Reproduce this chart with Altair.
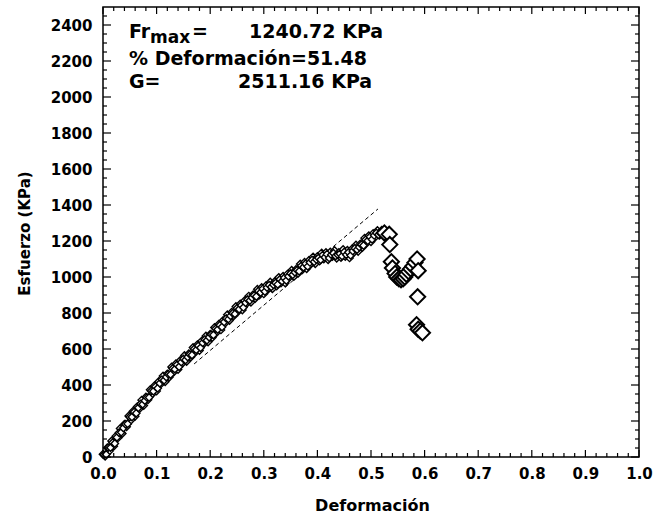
import altair as alt
import pandas as pd

# ---- data ----
strain = [0.000, 0.004, 0.008, 0.012, 0.016, 0.020, 0.024, 0.028, 0.032, 0.036,
          0.040, 0.044, 0.048, 0.052, 0.056, 0.060, 0.064, 0.068, 0.072, 0.076,
          0.080, 0.084, 0.088, 0.092, 0.096, 0.100, 0.104, 0.108, 0.112, 0.116,
          0.120, 0.124, 0.128, 0.132, 0.136, 0.140, 0.144, 0.148, 0.152, 0.156,
          0.160, 0.164, 0.168, 0.172, 0.176, 0.180, 0.184, 0.188, 0.192, 0.196,
          0.200, 0.204, 0.208, 0.212, 0.216, 0.220, 0.224, 0.228, 0.232, 0.236,
          0.240, 0.244, 0.248, 0.252, 0.256, 0.260, 0.264, 0.268, 0.272, 0.276,
          0.280, 0.284, 0.288, 0.292, 0.296, 0.300, 0.304, 0.308, 0.312, 0.316,
          0.320, 0.324, 0.328, 0.332, 0.336, 0.340, 0.344, 0.348, 0.352, 0.356,
          0.360, 0.364, 0.368, 0.372, 0.376, 0.380, 0.384, 0.388, 0.392, 0.396,
          0.400, 0.404, 0.408, 0.412, 0.416, 0.420, 0.424, 0.428, 0.432, 0.436,
          0.440, 0.444, 0.448, 0.452, 0.456, 0.460, 0.464, 0.468, 0.472, 0.476,
          0.480, 0.484, 0.488, 0.492, 0.496, 0.500, 0.504, 0.508, 0.512, 0.516,
          0.520]
stress = [15, 4, 52, 33, 89, 60, 116, 106, 158, 130,
          182, 168, 228, 204, 254, 226, 280, 268, 316, 286,
          334, 318, 374, 350, 396, 366, 420, 406, 450, 418,
          462, 444, 500, 472, 518, 486, 536, 520, 564, 530,
          574, 555, 608, 581, 624, 591, 644, 629, 672, 639,
          682, 664, 720, 692, 738, 706, 758, 744, 790, 758,
          804, 784, 836, 808, 850, 816, 868, 852, 894, 860,
          902, 880, 932, 900, 942, 906, 952, 932, 972, 934,
          974, 950, 998, 966, 1004, 966, 1016, 998, 1038, 1002,
          1042, 1020, 1072, 1040, 1082, 1046, 1092, 1072, 1112, 1074,
          1114, 1088, 1134, 1100, 1136, 1096, 1139, 1114, 1147, 1104,
          1137, 1108, 1153, 1114, 1149, 1106, 1154, 1136, 1178, 1142,
          1184, 1164, 1216, 1188, 1230, 1196, 1242, 1222, 1258, 1232,
          1260]

# second pass of readings, between the first ones
strain_b = [0.002, 0.006, 0.010, 0.014, 0.018, 0.022, 0.026, 0.030, 0.034, 0.038,
            0.042, 0.046, 0.050, 0.054, 0.058, 0.062, 0.066, 0.070, 0.074, 0.078,
            0.082, 0.086, 0.090, 0.094, 0.098, 0.102, 0.106, 0.110, 0.114, 0.118,
            0.122, 0.126, 0.130, 0.134, 0.138, 0.142, 0.146, 0.150, 0.154, 0.158,
            0.162, 0.166, 0.170, 0.174, 0.178, 0.182, 0.186, 0.190, 0.194, 0.198,
            0.202, 0.206, 0.210, 0.214, 0.218, 0.222, 0.226, 0.230, 0.234, 0.238,
            0.242, 0.246, 0.250, 0.254, 0.258, 0.262, 0.266, 0.270, 0.274, 0.278,
            0.282, 0.286, 0.290, 0.294, 0.298, 0.302, 0.306, 0.310, 0.314, 0.318,
            0.322, 0.326, 0.330, 0.334, 0.338, 0.342, 0.346, 0.350, 0.354, 0.358,
            0.362, 0.366, 0.370, 0.374, 0.378, 0.382, 0.386, 0.390, 0.394, 0.398,
            0.402, 0.406, 0.410, 0.414, 0.418, 0.422, 0.426, 0.430, 0.434, 0.438,
            0.442, 0.446, 0.450, 0.454, 0.458, 0.462, 0.466, 0.470, 0.474, 0.478,
            0.482, 0.486, 0.490, 0.494, 0.498, 0.502, 0.506, 0.510, 0.514, 0.518]
stress_b = [12, 14, 52, 52, 80, 75, 109, 135, 137, 161,
            182, 184, 222, 222, 250, 243, 273, 295, 293, 313,
            331, 331, 367, 365, 391, 382, 410, 430, 426, 444,
            460, 458, 492, 488, 512, 501, 527, 545, 539, 555,
            570, 567, 600, 595, 618, 607, 634, 653, 648, 665,
            680, 678, 712, 708, 732, 722, 750, 770, 766, 784,
            799, 795, 827, 821, 843, 831, 857, 875, 869, 885,
            898, 892, 922, 914, 934, 919, 941, 955, 945, 957,
            967, 959, 987, 977, 995, 980, 1004, 1020, 1012, 1026,
            1038, 1032, 1062, 1054, 1074, 1059, 1081, 1095, 1085, 1097,
            1106, 1096, 1122, 1110, 1126, 1106, 1123, 1132, 1117, 1124,
            1129, 1116, 1139, 1124, 1137, 1120, 1144, 1160, 1152, 1166,
            1179, 1175, 1207, 1201, 1223, 1209, 1231, 1245, 1235, 1247]

post_strain = [0.525, 0.534, 0.535, 0.538, 0.540, 0.545, 0.548, 0.552, 0.556,
               0.560, 0.563, 0.566, 0.570, 0.574, 0.578, 0.582, 0.586, 0.588,
               0.587, 0.585, 0.588, 0.592, 0.596]
post_stress = [1245, 1237, 1180, 1085, 1050, 1020, 1000, 990, 985,
               990, 1000, 1015, 1030, 1045, 1060, 1080, 1100, 1035,
               890, 735, 710, 700, 690]

fit_strain = [0.17, 0.513]
fit_stress = [517, 1378]

x_major = [0.0, 0.1, 0.2, 0.3, 0.4, 0.5, 0.6, 0.7, 0.8, 0.9, 1.0]
x_minor = [round(i * 0.02, 2) for i in range(51) if i % 5]
y_major = [0, 200, 400, 600, 800, 1000, 1200, 1400, 1600, 1800, 2000, 2200, 2400]
y_minor = [v for v in range(50, 2500, 50) if v % 200]

W, H = 536, 450
FONT = "DejaVu Sans"

xs = alt.Scale(domain=[0, 1], nice=False, zero=False)
ys = alt.Scale(domain=[0, 2500], nice=False, zero=False)

band_df = pd.DataFrame({"strain": strain + strain_b, "stress": stress + stress_b})
post_df = pd.DataFrame({"strain": post_strain, "stress": post_stress})
fit_df = pd.DataFrame({"strain": fit_strain, "stress": fit_stress})

x_axis = alt.Axis(values=x_major, format=".1f", tickSize=0, domain=False, grid=False,
                  labelFont=FONT, labelFontWeight="bold", labelFontSize=15,
                  labelColor="black", labelPadding=9, labelFlush=False, labelOverlap=False,
                  title="Deformación", titleFont=FONT, titleFontWeight="bold",
                  titleFontSize=16, titleColor="black", titleX=269, titleY=48,
                  titleBaseline="middle", titleAlign="center")
y_axis = alt.Axis(values=y_major, format="d", tickSize=0, domain=False, grid=False,
                  labelFont=FONT, labelFontWeight="bold", labelFontSize=15,
                  labelColor="black", labelPadding=11, labelFlush=False, labelOverlap=False,
                  title="Esfuerzo (KPa)", titleFont=FONT, titleFontWeight="bold",
                  titleFontSize=15, titleColor="black", titleX=-79, titleY=226,
                  titleBaseline="middle", titleAlign="center", titleAngle=-90)


def X(field):
    return alt.X(field, scale=xs, axis=x_axis)


def Y(field):
    return alt.Y(field, scale=ys, axis=y_axis)


fit = alt.Chart(fit_df).mark_line(color="black", strokeWidth=1, strokeDash=[4, 3]).encode(
    x=X("strain:Q"), y=Y("stress:Q"))

band = alt.Chart(band_df).mark_point(shape="diamond", size=55, fill="white", stroke="black",
                                     strokeWidth=1.4, opacity=1, fillOpacity=1).encode(
    x=X("strain:Q"), y=Y("stress:Q"))

post = alt.Chart(post_df).mark_point(shape="diamond", size=230, fill="white", stroke="black",
                                     strokeWidth=2, opacity=1, fillOpacity=1).encode(
    x=X("strain:Q"), y=Y("stress:Q"))


def yticks(vals, x0, x1):
    return alt.Chart(pd.DataFrame({"stress": vals})).mark_rule(color="black", strokeWidth=1.2).encode(
        y=Y("stress:Q"), x=alt.value(x0), x2=alt.value(x1))


def xticks(vals, y0, y1):
    return alt.Chart(pd.DataFrame({"strain": vals})).mark_rule(color="black", strokeWidth=1.2).encode(
        x=X("strain:Q"), y=alt.value(y0), y2=alt.value(y1))


ticks = [
    yticks(y_major, 0, 8), yticks(y_minor, 0, 4),
    yticks(y_major, W, W - 8), yticks(y_minor, W, W - 4),
    xticks(x_major, H, H - 7), xticks(x_minor, H, H - 4),
    xticks(x_major, 0, 7), xticks(x_minor, 0, 4),
]


def label(t, x, y, size=19, align="left"):
    return alt.Chart(pd.DataFrame({"t": [t]})).mark_text(
        font=FONT, fontWeight="bold", fontSize=size, color="black",
        align=align, baseline="alphabetic").encode(
        text="t:N", x=alt.value(x), y=alt.value(y))


texts = [
    label("Fr", 26, 31),
    label("max", 47, 36, size=17),
    label("=", 89, 31),
    label("1240.72 KPa", 146, 31),
    label("% Deformación=51.48", 26, 58),
    label("G=", 26, 81),
    label("2511.16 KPa", 135, 81),
]

chart = alt.layer(fit, band, post, *ticks, *texts).properties(
    width=W, height=H,
    autosize=alt.AutoSizeParams(type="none"),
    padding={"left": 103, "top": 7, "right": 15, "bottom": 62},
    background="white",
).configure_view(stroke="black", strokeWidth=1.5)

chart.save("out.html", embed_options={"renderer": "svg", "actions": False})
